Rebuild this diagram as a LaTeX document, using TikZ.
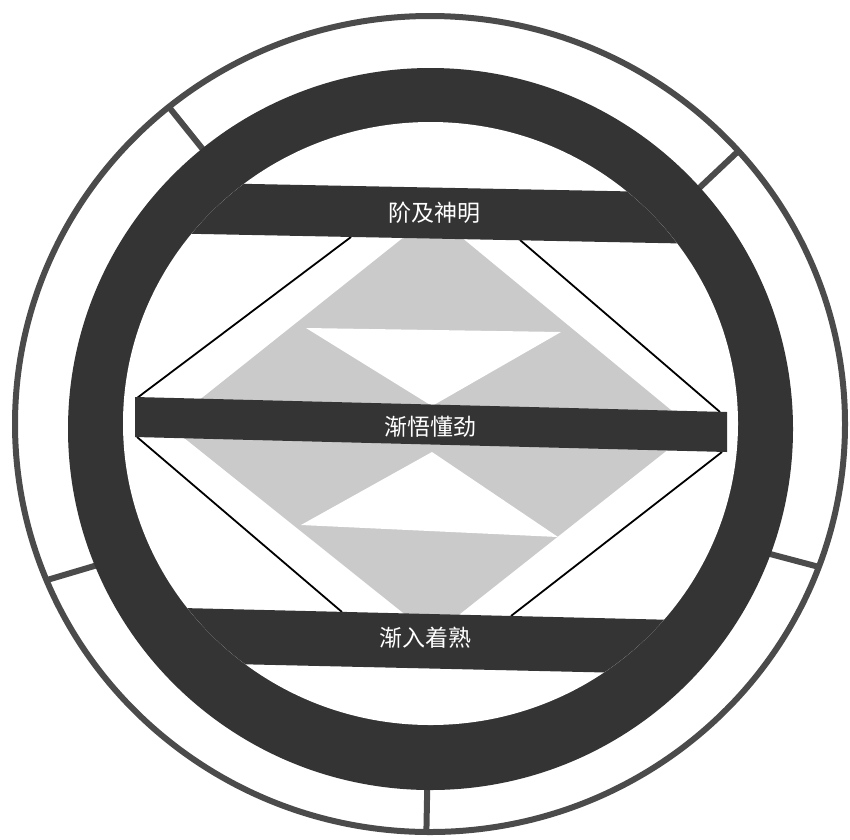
\documentclass[tikz,border=0pt]{standalone}
\usepackage{fontspec}
\newfontfamily\cjk{Noto Sans CJK SC}
\definecolor{ringc}{RGB}{52,52,52}
\definecolor{linec}{RGB}{75,75,75}
\definecolor{diamc}{RGB}{202,202,202}
\begin{document}
\begin{tikzpicture}[x=1pt,y=-1pt,
  ringline/.style={draw=linec,line width=6pt},
  bar/.style={fill=ringc},
  edge/.style={draw=black,line width=1.8pt},
  lbl/.style={text=white,font=\cjk\fontsize{23}{23}\selectfont,inner sep=0pt}]
\useasboundingbox (0,0) rectangle (850,839);
\fill[white] (0,0) rectangle (850,839);
% ticks between ring and outer circle
\foreach \a in {129,42,-20.5,-90.5,-157.5} {
  \draw[ringline] ({430.5+350*cos(\a)},{429-348*sin(\a)}) -- ({430+415*cos(\a)},{424-408*sin(\a)});
}
% outer thin circle
\draw[ringline] (430,424) ellipse [x radius=415pt, y radius=408pt];
% thick dark ring
\fill[ringc] (430.5,429) ellipse [x radius=362.5pt, y radius=361pt];
\fill[white] (430.5,423.5) ellipse [x radius=307.5pt, y radius=301.5pt];
\begin{scope}
  \clip (430.5,423.5) ellipse [x radius=307.5pt, y radius=301.5pt];
  % gray diamond with white hourglass triangles
  \fill[diamc] (433,214) -- (694,429) -- (432,636) -- (168,425) -- cycle;
  \fill[white] (306,328) -- (561,332) -- (432,406) -- cycle;
  \fill[white] (432,452) -- (558,537) -- (301,525) -- cycle;
  % connecting lines
  \coordinate (m1) at (137,398);
  \coordinate (m2) at (720,412);
  \coordinate (m3) at (137,437);
  \coordinate (m4) at (722,452);
  \coordinate (u1) at (351,237);
  \coordinate (u2) at (520,240);
  \coordinate (b1) at (342,612);
  \coordinate (b2) at (511,616);
  \draw[edge] (m1) -- (u1);
  \draw[edge] (u2) -- (m2);
  \draw[edge] (m3) -- (b1);
  \draw[edge] (m4) -- (b2);
  % top and bottom bars (merge with ring)
  \fill[bar] (100,181) -- (760,194) -- (760,245) -- (100,232) -- cycle;
  \fill[bar] (100,606) -- (760,622) -- (760,676) -- (100,661) -- cycle;
\end{scope}
% middle bar
\fill[bar] (135,397) -- (727,412) -- (727,452) -- (135,437) -- cycle;
% labels
\node[lbl] (t1) at (434,213) {阶及神明};
\node[lbl] (t2) at (430,427) {渐悟懂劲};
\node[lbl] (t3) at (425,638) {渐入着熟};
\end{tikzpicture}
\end{document}
